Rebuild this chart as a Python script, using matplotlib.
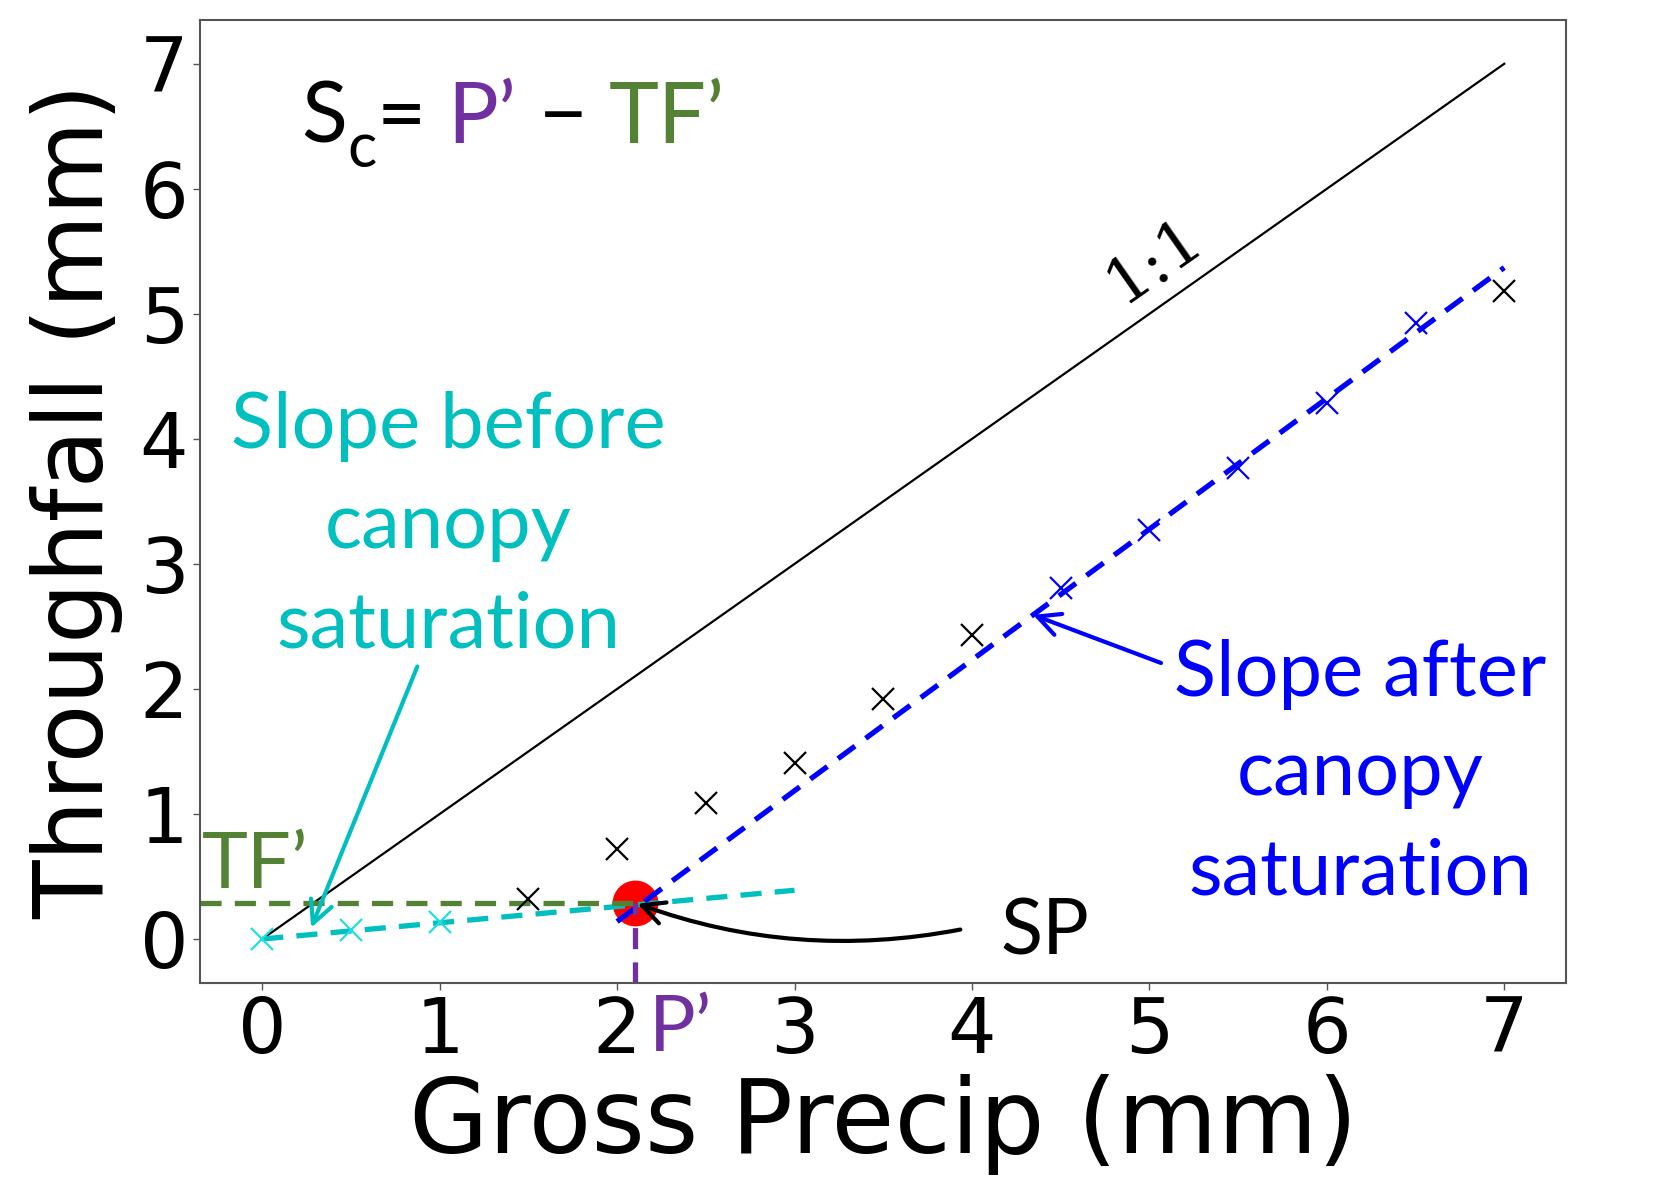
import matplotlib
matplotlib.use("Agg")
import matplotlib.pyplot as plt

# data
precip_before = [0, 0.5, 1]
tf_before = [0, 0.07, 0.14]

precip_black = [1.5, 2, 2.5, 3, 3.5, 4, 7]
tf_black = [0.32, 0.72, 1.09, 1.41, 1.92, 2.43, 5.18]

precip_after = [4.5, 5, 5.5, 6, 6.5]
tf_after = [2.81, 3.27, 3.77, 4.29, 4.93]

one_to_one = [0, 7]

fit_before_x = [0, 3]
fit_before_y = [0, 0.39]
fit_after_x = [2.0, 7.0]
fit_after_y = [0.14, 5.37]

sp_x, sp_y = 2.1, 0.29

GREEN = "#548235"
PURPLE = "#7030A0"
CYAN = "#00BFBF"
LABEL_FONT = "Lato"
DASH = (4, 2.5)

fig = plt.figure(figsize=(16.54, 11.77), dpi=100)
ax = fig.add_axes([0.121, 0.165, 0.826, 0.818])

ax.plot(one_to_one, one_to_one, color="black", lw=1.6)
ax.plot(fit_before_x, fit_before_y, ls="--", color=CYAN, lw=3.8, dashes=DASH)
ax.plot(fit_after_x, fit_after_y, ls="--", color="blue", lw=3.8, dashes=DASH)

ax.plot([-0.35, sp_x], [sp_y, sp_y], ls="--", color=GREEN, lw=3.8, dashes=DASH, zorder=2)
ax.plot([sp_x, sp_x], [-0.35, sp_y], ls="--", color=PURPLE, lw=3.8, dashes=DASH, zorder=2)

ax.plot(precip_black, tf_black, "x", color="black", ms=16, mew=1.6)
ax.plot(precip_before, tf_before, "x", color="#22DDDD", ms=16, mew=1.6)
ax.plot(precip_after, tf_after, "x", color="blue", ms=16, mew=1.6)

ax.plot(sp_x, sp_y, "o", color="red", ms=32, zorder=1)

ax.set_xlim(-0.35, 7.35)
ax.set_ylim(-0.35, 7.35)
ax.set_xticks(range(8))
ax.set_yticks(range(8))
ax.tick_params(labelsize=55, colors="black", length=5, width=1, color="#555555")
for s in ax.spines.values():
    s.set_color("#555555")
    s.set_linewidth(1.5)

ax.set_xlabel("Gross Precip (mm)", fontsize=74, labelpad=4)
ax.set_ylabel("Throughfall (mm)", fontsize=69, labelpad=12)

# annotations
ax.text(5.03, 5.42, "1:1", fontsize=46, rotation=35, ha="center", va="center",
        family="DejaVu Serif")

ax.text(1.05, 3.3, "Slope before\ncanopy\nsaturation", color=CYAN, fontsize=56,
        family=LABEL_FONT, ha="center", va="center", linespacing=1.5)
ax.annotate("", xy=(0.27, 0.07), xytext=(0.88, 2.2),
            arrowprops=dict(arrowstyle="->", color=CYAN, lw=3, mutation_scale=40))

ax.text(6.19, 1.32, "Slope after\ncanopy\nsaturation", color="blue", fontsize=56,
        family=LABEL_FONT, ha="center", va="center", linespacing=1.5)
ax.annotate("", xy=(4.33, 2.6), xytext=(5.08, 2.2),
            arrowprops=dict(arrowstyle="->", color="blue", lw=3, mutation_scale=40))

ax.text(4.41, 0.05, "SP", fontsize=56, family=LABEL_FONT, ha="center", va="center")
ax.annotate("", xy=(sp_x, sp_y), xytext=(3.95, 0.08),
            arrowprops=dict(arrowstyle="->", color="black", lw=3, mutation_scale=40,
                            connectionstyle="arc3,rad=-0.14"))

ax.text(-0.34, 0.58, "TF\u2019", color=GREEN, fontsize=56, family=LABEL_FONT,
        ha="left", va="center")
ax.text(2.18, -0.72, "P\u2019", color=PURPLE, fontsize=56, family=LABEL_FONT,
        ha="left", va="center", clip_on=False)

# S_c = P' - TF'
fig.canvas.draw()
r = fig.canvas.get_renderer()
sc_x, sc_y = 0.22, 6.37
t = ax.text(sc_x, sc_y, "S", fontsize=61, family=LABEL_FONT, va="baseline")
pieces = [("c", "black", 44, -24), ("= ", "black", 61, 0), ("P\u2019", PURPLE, 61, 0),
          (" \u2212 ", "black", 61, 0), ("TF\u2019", GREEN, 61, 0)]
prev = t
x0, y0 = ax.transData.transform((sc_x, sc_y))
for txt, col, size, dy in pieces:
    bb = prev.get_window_extent(r)
    xd, yd = ax.transData.inverted().transform((bb.x1, y0 + dy))
    prev = ax.text(xd, yd, txt, fontsize=size, family=LABEL_FONT, color=col, va="baseline")

fig.savefig("out.png", dpi=100)
